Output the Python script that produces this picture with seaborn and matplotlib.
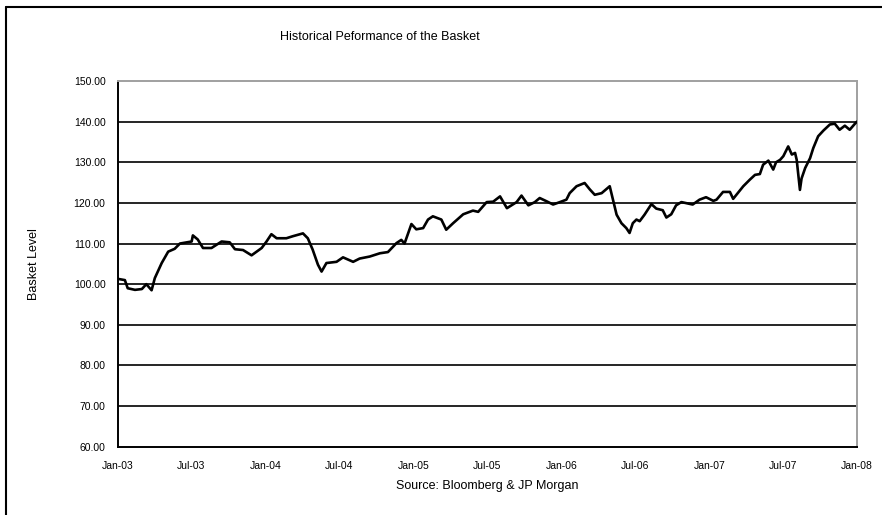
import matplotlib
matplotlib.use("Agg")
import matplotlib.pyplot as plt
from matplotlib.lines import Line2D
import pandas as pd
import seaborn as sns

dates = [
    "2003-01-01", "2003-01-18", "2003-01-25", "2003-02-12", "2003-03-01", "2003-03-12",
    "2003-03-25", "2003-04-02", "2003-04-19", "2003-05-05", "2003-05-21", "2003-06-03",
    "2003-07-02", "2003-07-05", "2003-07-17", "2003-07-30", "2003-08-20", "2003-09-14",
    "2003-10-04", "2003-10-17", "2003-11-06", "2003-11-27", "2003-12-22", "2004-01-03",
    "2004-01-15", "2004-01-28", "2004-02-21", "2004-03-08", "2004-04-02", "2004-04-14",
    "2004-04-26", "2004-05-09", "2004-05-18", "2004-05-30", "2004-06-24", "2004-07-10",
    "2004-08-04", "2004-08-20", "2004-09-14", "2004-10-09", "2004-10-29", "2004-11-19",
    "2004-12-01", "2004-12-09", "2004-12-26", "2005-01-07", "2005-01-24", "2005-02-05",
    "2005-02-17", "2005-03-10", "2005-03-22", "2005-04-08", "2005-05-03", "2005-05-27",
    "2005-06-09", "2005-06-30", "2005-07-16", "2005-08-02", "2005-08-19", "2005-09-12",
    "2005-09-24", "2005-10-11", "2005-10-27", "2005-11-08", "2005-11-25", "2005-12-11",
    "2005-12-28", "2006-01-13", "2006-01-21", "2006-02-07", "2006-02-27", "2006-03-12",
    "2006-03-24", "2006-04-10", "2006-04-30", "2006-05-08", "2006-05-17", "2006-05-29",
    "2006-06-10", "2006-06-18", "2006-06-26", "2006-07-05", "2006-07-13", "2006-07-25",
    "2006-08-11", "2006-08-23", "2006-09-08", "2006-09-17", "2006-09-29", "2006-10-11",
    "2006-10-24", "2006-11-21", "2006-12-08", "2006-12-24", "2007-01-11", "2007-01-19",
    "2007-02-04", "2007-02-21", "2007-03-01", "2007-03-13", "2007-03-26", "2007-04-11",
    "2007-04-24", "2007-05-06", "2007-05-14", "2007-05-27", "2007-06-08", "2007-06-15",
    "2007-06-25", "2007-07-03", "2007-07-15", "2007-07-24", "2007-08-01", "2007-08-05",
    "2007-08-09", "2007-08-13", "2007-08-17", "2007-08-26", "2007-09-07", "2007-09-15",
    "2007-09-27", "2007-10-10", "2007-10-26", "2007-11-07", "2007-11-19", "2007-12-02",
    "2007-12-14", "2007-12-27", "2008-01-01",
]
basket_level = [
    101.3, 101.0, 99.0, 98.6, 98.8, 100.0,
    98.5, 101.5, 105.2, 108.0, 108.7, 110.0,
    110.5, 112.0, 111.0, 108.9, 108.9, 110.5,
    110.3, 108.6, 108.4, 107.1, 108.9, 110.5,
    112.3, 111.3, 111.3, 111.8, 112.5, 111.3,
    108.5, 104.8, 103.1, 105.2, 105.5, 106.6,
    105.5, 106.3, 106.8, 107.6, 107.9, 110.1,
    110.9, 110.0, 114.8, 113.5, 113.8, 115.9,
    116.7, 115.9, 113.4, 115.0, 117.2, 118.1,
    117.8, 120.2, 120.3, 121.6, 118.7, 120.2,
    121.8, 119.4, 120.2, 121.2, 120.4, 119.6,
    120.2, 120.8, 122.4, 124.1, 124.9, 123.3,
    122.0, 122.4, 124.1, 120.8, 117.1, 115.0,
    113.8, 112.6, 115.0, 115.9, 115.5, 117.1,
    119.7, 118.6, 118.2, 116.4, 117.2, 119.4,
    120.2, 119.6, 120.8, 121.4, 120.5, 120.8,
    122.7, 122.7, 121.0, 122.5, 124.1, 125.7,
    126.9, 127.1, 129.4, 130.4, 128.2, 130.0,
    130.6, 131.5, 133.9, 131.9, 132.3, 130.6,
    126.9, 123.2, 126.0, 128.6, 131.0, 133.5,
    136.4, 137.8, 139.3, 139.5, 138.0, 139.0,
    138.0, 139.5, 140.0,
]
y_ticks = [60, 70, 80, 90, 100, 110, 120, 130, 140, 150]
x_tick_dates = ["2003-01-01", "2003-07-01", "2004-01-01", "2004-07-01", "2005-01-01",
                "2005-07-01", "2006-01-01", "2006-07-01", "2007-01-01", "2007-07-01",
                "2008-01-01"]
title = "Historical Peformance of the Basket"
y_label = "Basket Level"
x_label = "Source: Bloomberg & JP Morgan"

df = pd.DataFrame({"Date": pd.to_datetime(dates), "Level": basket_level})

sns.set_theme(style="white")
plt.rcParams["font.family"] = ["Liberation Sans", "DejaVu Sans"]
plt.rcParams["text.color"] = "black"
plt.rcParams["axes.labelcolor"] = "black"
plt.rcParams["xtick.color"] = "black"
plt.rcParams["ytick.color"] = "black"

fig = plt.figure(figsize=(8.82, 5.15), dpi=100)
ax = fig.add_axes([118 / 882, 1 - 446.7 / 515, (857 - 118) / 882, (446.7 - 81) / 515])

for v in y_ticks[1:-1]:
    ax.axhline(v, color="black", lw=1.2, zorder=1)

sns.lineplot(data=df, x="Date", y="Level", ax=ax, color="black", lw=1.9, zorder=3)

ax.set_ylim(60, 150)
ax.set_xlim(pd.Timestamp("2003-01-01"), pd.Timestamp("2008-01-01"))
ax.set_yticks(y_ticks)
ax.set_yticklabels([f"{v:.2f}" for v in y_ticks], fontsize=7.5)
xt = pd.to_datetime(x_tick_dates)
ax.set_xticks(xt)
ax.set_xticklabels([d.strftime("%b-%y") for d in xt], fontsize=7.5)
ax.tick_params(axis="both", direction="out", length=4, width=1, colors="black", pad=5)
ax.tick_params(axis="x", pad=6)

ax.set_xlabel(x_label, fontsize=9, labelpad=7, color="black")
ax.set_ylabel(y_label, fontsize=9, labelpad=24, color="black")

for side in ["left", "bottom"]:
    ax.spines[side].set_color("black")
    ax.spines[side].set_linewidth(1.4)
for side in ["top", "right"]:
    ax.spines[side].set_color("#a0a0a0")
    ax.spines[side].set_linewidth(1.4)
    ax.spines[side].set_visible(True)

fig.text(380 / 882, 1 - 37 / 515, title, ha="center", va="center", fontsize=9, color="black")

frame_x = 6 / 882
frame_y = 1 - 7 / 515
fig.lines.append(Line2D([frame_x, frame_x], [0, frame_y], transform=fig.transFigure,
                        color="black", lw=1.5))
fig.lines.append(Line2D([frame_x, 1], [frame_y, frame_y], transform=fig.transFigure,
                        color="black", lw=1.5))

fig.savefig("out.png", dpi=100)
